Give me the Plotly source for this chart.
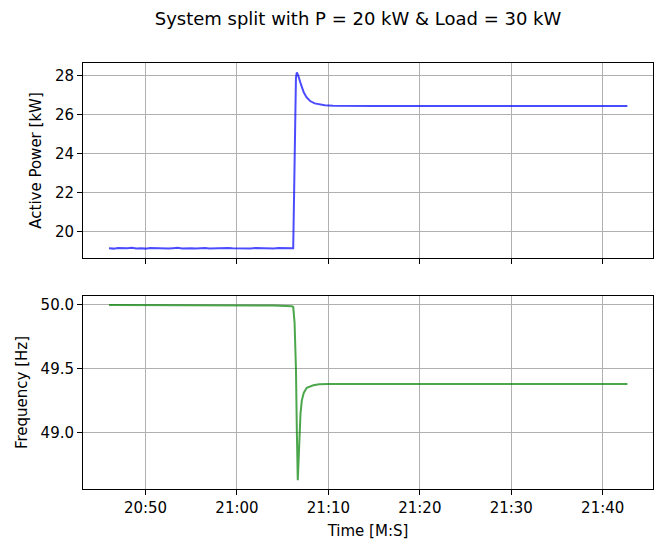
import pandas as pd
import plotly.graph_objects as go

# Time stamps are seconds after minute 20:00 of the recording
BASE = pd.Timestamp("2024-01-01 10:20:00")

# Active power [kW]
power_t = [
    46.0, 46.5, 47.0, 47.5, 48.0, 48.5, 49.0, 49.5, 50.0, 50.5,
    51.0, 51.5, 52.0, 52.5, 53.0, 53.5, 54.0, 54.5, 55.0, 55.5,
    56.0, 56.5, 57.0, 57.5, 58.0, 58.5, 59.0, 59.5, 60.0, 60.5,
    61.0, 61.5, 62.0, 62.5, 63.0, 63.5, 64.0, 64.5, 65.0, 65.5,
    66.0, 66.15, 66.25, 66.35, 66.45, 66.55, 66.7, 67.0, 67.3, 67.6,
    68.0, 68.5, 69.0, 69.6, 70.5, 72.0, 75.0, 80.0, 85.0, 90.0,
    95.0, 100.0, 102.7,
]
power_kw = [
    19.15, 19.13, 19.16, 19.14, 19.15, 19.17, 19.14, 19.15, 19.13, 19.16,
    19.15, 19.14, 19.16, 19.13, 19.15, 19.17, 19.14, 19.16, 19.15, 19.13,
    19.15, 19.16, 19.14, 19.15, 19.13, 19.14, 19.16, 19.15, 19.14, 19.13,
    19.15, 19.14, 19.16, 19.15, 19.13, 19.15, 19.14, 19.16, 19.15, 19.14,
    19.15, 19.15, 22.0, 26.0, 27.9, 28.17, 28.0, 27.55, 27.15, 26.9,
    26.7, 26.58, 26.52, 26.48, 26.46, 26.45, 26.45, 26.45, 26.45, 26.45,
    26.45, 26.45, 26.45,
]

# Grid frequency [Hz]
freq_t = [
    46.0, 48.0, 50.0, 52.0, 54.0, 56.0, 58.0, 60.0, 62.0, 64.0,
    66.0, 66.15, 66.3, 66.45, 66.55, 66.65, 66.75, 66.83, 66.95, 67.09,
    67.3, 67.63, 68.35, 69.0, 70.0, 75.0, 80.0, 85.0, 90.0, 95.0,
    100.0, 102.7,
]
freq_hz = [
    50.0, 50.0, 50.0, 49.998, 49.995, 49.996, 49.998, 50.0, 49.999, 49.996,
    49.99, 49.985, 49.86, 49.5, 49.0, 48.625, 48.8, 49.0, 49.15, 49.25,
    49.31, 49.35, 49.37, 49.378, 49.38, 49.38, 49.38, 49.38, 49.38, 49.38,
    49.38, 49.38,
]

tick_secs = [50, 60, 70, 80, 90, 100]
x_lim = [43.16, 105.5]


def stamp(secs):
    return BASE + pd.to_timedelta(secs, unit="s")


power_x = [stamp(s) for s in power_t]
freq_x = [stamp(s) for s in freq_t]
x_range = [stamp(s) for s in x_lim]
tick_vals = [stamp(s) for s in tick_secs]

FONT = "DejaVu Sans"
GRID = "#b0b0b0"

fig = go.Figure()
fig.add_trace(go.Scatter(
    x=power_x, y=power_kw, mode="lines",
    line=dict(color="rgba(0,0,255,0.7)", width=2),
    xaxis="x", yaxis="y", showlegend=False,
))
fig.add_trace(go.Scatter(
    x=freq_x, y=freq_hz, mode="lines",
    line=dict(color="rgba(0,128,0,0.7)", width=2),
    xaxis="x2", yaxis="y2", showlegend=False,
))

axis_common = dict(
    showline=True, mirror=True, linecolor="black", linewidth=1,
    ticks="outside", ticklen=5, tickwidth=1, tickcolor="black",
    showgrid=True, gridcolor=GRID, gridwidth=1, zeroline=False,
    tickfont=dict(family=FONT, size=15, color="black"),
)

fig.update_layout(
    width=659, height=542,
    margin=dict(l=83, r=6, t=63, b=53),
    paper_bgcolor="white", plot_bgcolor="white",
    font=dict(family=FONT, color="black"),
    title=dict(
        text="System split with P = 20 kW & Load = 30 kW",
        font=dict(family=FONT, size=18, color="black"),
        x=0.4825, xref="paper", xanchor="center",
        y=0.965, yref="container", yanchor="middle",
    ),
    xaxis=dict(
        axis_common, type="date", domain=[0, 1], anchor="y",
        range=x_range, tickvals=tick_vals, showticklabels=False,
    ),
    yaxis=dict(
        axis_common, domain=[0.5423, 1.0], anchor="x",
        range=[18.65, 28.65], tickvals=[20, 22, 24, 26, 28],
        title=dict(text="Active Power [kW]", standoff=9,
                   font=dict(family=FONT, size=15, color="black")),
    ),
    xaxis2=dict(
        axis_common, type="date", domain=[0, 1], anchor="y2",
        range=x_range, tickvals=tick_vals, tickformat="%M:%S",
        title=dict(text="Time [M:S]", standoff=9,
                   font=dict(family=FONT, size=15, color="black")),
    ),
    yaxis2=dict(
        axis_common, domain=[0.0, 0.453], anchor="x2",
        range=[48.557, 50.07], tickvals=[49.0, 49.5, 50.0],
        ticktext=["49.0", "49.5", "50.0"],
        title=dict(text="Frequency [Hz]", standoff=9,
                   font=dict(family=FONT, size=15, color="black")),
    ),
)

fig.write_html("out.html")
